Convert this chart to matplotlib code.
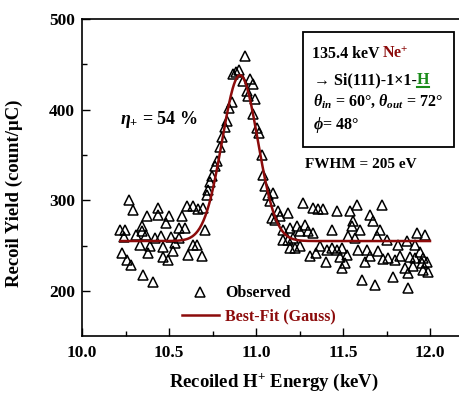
import numpy as np
import matplotlib
matplotlib.use("Agg")
import matplotlib.pyplot as plt
from matplotlib.lines import Line2D
from matplotlib.patches import Rectangle

plt.rcParams['font.family'] = ['Liberation Serif', 'DejaVu Serif']
plt.rcParams['font.weight'] = 'bold'
plt.rcParams['axes.labelweight'] = 'bold'
plt.rcParams['mathtext.fontset'] = 'custom'
plt.rcParams['mathtext.rm'] = 'Liberation Serif:bold'
plt.rcParams['mathtext.it'] = 'Liberation Serif:italic:bold'
plt.rcParams['mathtext.bf'] = 'Liberation Serif:bold'

# Observed recoil yield vs. recoiled H+ energy
energy = [
    10.218, 10.228, 10.241, 10.247, 10.257, 10.272, 10.280, 10.295, 10.310, 10.333,
    10.343, 10.343, 10.349, 10.366, 10.372, 10.381, 10.391, 10.406, 10.420, 10.438,
    10.438, 10.452, 10.467, 10.467, 10.483, 10.496, 10.502, 10.510, 10.525, 10.534,
    10.559, 10.559, 10.573, 10.592, 10.602, 10.611, 10.636, 10.640, 10.663, 10.668,
    10.688, 10.697, 10.707,
    10.717, 10.726, 10.736, 10.747, 10.764, 10.776, 10.793, 10.805, 10.822, 10.832,
    10.847, 10.860, 10.868, 10.885, 10.905, 10.937,
    10.927, 10.966, 10.981, 10.947, 10.956, 10.994, 10.984, 11.004, 11.019, 11.033,
    11.042, 11.052, 11.071, 11.080, 11.099, 11.090, 11.109, 11.128, 11.138, 11.186,
    11.157, 11.195, 11.234, 11.253, 11.282, 11.301, 11.330, 11.157, 11.186, 11.214,
    11.195, 11.224, 11.253, 11.310, 11.272, 11.330, 11.358, 11.387, 11.464, 11.540,
    11.579, 11.722, 11.655, 11.674, 11.559, 11.552, 11.713, 11.598, 11.435, 11.530,
    11.569, 11.694, 11.751, 11.924, 11.971, 11.818, 11.866, 11.914, 11.368, 11.406,
    11.435, 11.464, 11.492, 11.521, 11.483, 11.511, 11.492, 11.588, 11.636, 11.655,
    11.703, 11.626, 11.730, 11.759, 11.799, 11.828, 11.885, 11.914, 11.943, 11.960,
    11.983, 11.954, 11.902, 11.856, 11.874, 11.960, 11.989, 11.607, 11.684, 11.789,
    11.875, 11.345, 11.402,
]
yield_obs = [
    267.6, 241.7, 259.8, 267.6, 234.3, 300.8, 228.8, 289.7, 262.0, 250.9,
    272.0, 265.7, 217.7, 262.0, 282.3, 241.7, 249.8, 210.3, 258.4, 291.6,
    284.2, 260.1, 248.4, 237.3, 275.0, 234.3, 283.1, 259.5, 243.5, 252.8,
    258.4, 269.4, 282.3, 269.4, 293.4, 239.9, 250.9, 293.4, 250.9, 290.5,
    238.0, 291.6, 267.6,
    306.3, 311.8, 319.6, 327.3, 337.3, 342.9, 358.4, 369.4, 380.5, 387.5,
    402.3, 407.9, 439.2, 441.4, 444.0, 458.8,
    431.8, 433.7, 428.1, 420.7, 415.2, 411.5, 394.9, 380.2, 374.6, 349.5,
    327.4, 315.5, 306.3, 298.9, 308.2, 280.5, 278.6, 287.8, 282.3, 286.0,
    267.6, 269.4, 271.2, 265.7, 273.1, 265.7, 263.9, 256.5, 256.5, 258.4,
    247.3, 247.3, 249.1, 238.0, 297.1, 291.6, 290.5, 290.5, 287.8, 287.8,
    295.2, 295.2, 284.2, 276.7, 276.7, 272.0, 267.6, 267.6, 267.6, 260.1,
    258.4, 260.1, 256.5, 263.9, 262.0, 250.9, 254.6, 250.9, 249.8, 245.4,
    247.3, 245.4, 247.3, 239.9, 237.7, 231.0, 225.1, 245.4, 245.4, 238.0,
    243.5, 232.4, 235.4, 236.5, 234.3, 238.8, 237.7, 236.5, 243.2, 236.5,
    232.1, 231.0, 227.7, 225.5, 219.9, 223.3, 221.0, 212.2, 206.6, 215.8,
    203.0, 242.1, 232.1,
]

# Gaussian best fit (Origin "Gauss" form, width parameter w)
fit_center = 10.908
fit_w = 0.205
fit_baseline = 255.0
fit_height = 183.0
fit_range = (10.22, 12.0)

x_ticks = [10.0, 10.5, 11.0, 11.5, 12.0]
y_ticks = [200, 300, 400, 500]

DARK_RED = '#8c0b0b'
GREEN = '#1a8c1a'
W, H = 459, 394

fig = plt.figure(figsize=(W / 100, H / 100), dpi=100)
ax = fig.add_axes([82 / W, 1 - 336.2 / H, (464.8 - 82) / W, (336.2 - 19) / H])

obs, = ax.plot(energy, yield_obs, ls='none', marker='^', ms=7.5, mfc='none',
               mec='black', mew=1.1, label='Observed', zorder=3)
xf = np.linspace(fit_range[0], fit_range[1], 500)
yf = fit_baseline + fit_height * np.exp(-2 * ((xf - fit_center) / fit_w) ** 2)
fit, = ax.plot(xf, yf, color=DARK_RED, lw=1.8, label='Best-Fit (Gauss)', zorder=4)

ax.set_xlim(10.0, 12.2)
ax.set_ylim(150, 500)
ax.set_xticks(x_ticks)
ax.set_xticklabels([f'{v:.1f}' for v in x_ticks])
ax.set_xticks(np.arange(10.25, 12.1, 0.5), minor=True)
ax.set_yticks(y_ticks)
ax.set_yticks([250, 350, 450], minor=True)
ax.tick_params(which='both', direction='in', labelsize=12.5, width=1.0)
ax.tick_params(axis='y', which='major', length=6, pad=5)
ax.tick_params(axis='y', which='minor', length=3.5)
ax.tick_params(axis='x', which='major', length=6, pad=6)
ax.tick_params(axis='x', which='minor', length=3.5)
for s in ax.spines.values():
    s.set_linewidth(1.2)

ax.set_xlabel('Recoiled H$^{+}$ Energy (keV)', fontsize=13.5, fontweight='bold', labelpad=8)
ax.set_ylabel('Recoil Yield (count/μC)', fontsize=13.5, fontweight='bold')
ax.yaxis.set_label_coords(-0.154, 0.451)

leg = ax.legend(handles=[obs, fit], loc='upper left', bbox_to_anchor=(0.261, 0.16),
                frameon=False, fontsize=11.5, handlelength=2.3, handletextpad=0.4,
                labelspacing=0.42, borderaxespad=0, borderpad=0)
leg.get_texts()[1].set_color(DARK_RED)

ax.text(10.218, 389, r'$\eta_{+}$ = 54 %', fontsize=13, va='center', ha='left')
ax.text(11.28, 339.5, 'FWHM = 205 eV', fontsize=11, va='center', ha='left')

# info box
fig.add_artist(Rectangle((303 / W, 1 - 147 / H), (454 - 303) / W, (147 - 32) / H,
                         transform=fig.transFigure, facecolor='white',
                         edgecolor='black', lw=1.3, zorder=5))

renderer = fig.canvas.get_renderer()


def text_run(x_px, y_px, pieces, size):
    """Place consecutive text pieces on one baseline; each piece is (text, colour, gap_px)."""
    x = x_px
    out = []
    for s, color, gap in pieces:
        x += gap
        t = fig.text(x / W, 1 - y_px / H, s, color=color, fontsize=size,
                     ha='left', va='baseline', zorder=6)
        bb = t.get_window_extent(renderer)
        x = bb.x1
        out.append(t)
    return out


text_run(312, 58, [('135.4 keV', 'black', 0), ('Ne$^{+}$', DARK_RED, 2.5)], 11.5)
line2 = text_run(314, 84, [('→ Si(111)-1×1-', 'black', 0), ('H', GREEN, 0)], 11.5)
text_run(313, 106, [(r'$\theta_{in}$ = 60°, $\theta_{out}$ = 72°', 'black', 0)], 11.5)
text_run(313, 129, [(r'$\phi$= 48°', 'black', 0)], 11.5)

hb = line2[1].get_window_extent(renderer)
fig.add_artist(Line2D([hb.x0 / W, hb.x1 / W], [(hb.y0 + 1) / H, (hb.y0 + 1) / H],
                      transform=fig.transFigure, color=GREEN, lw=1.5, zorder=6))

fig.savefig('out.png', dpi=100)
